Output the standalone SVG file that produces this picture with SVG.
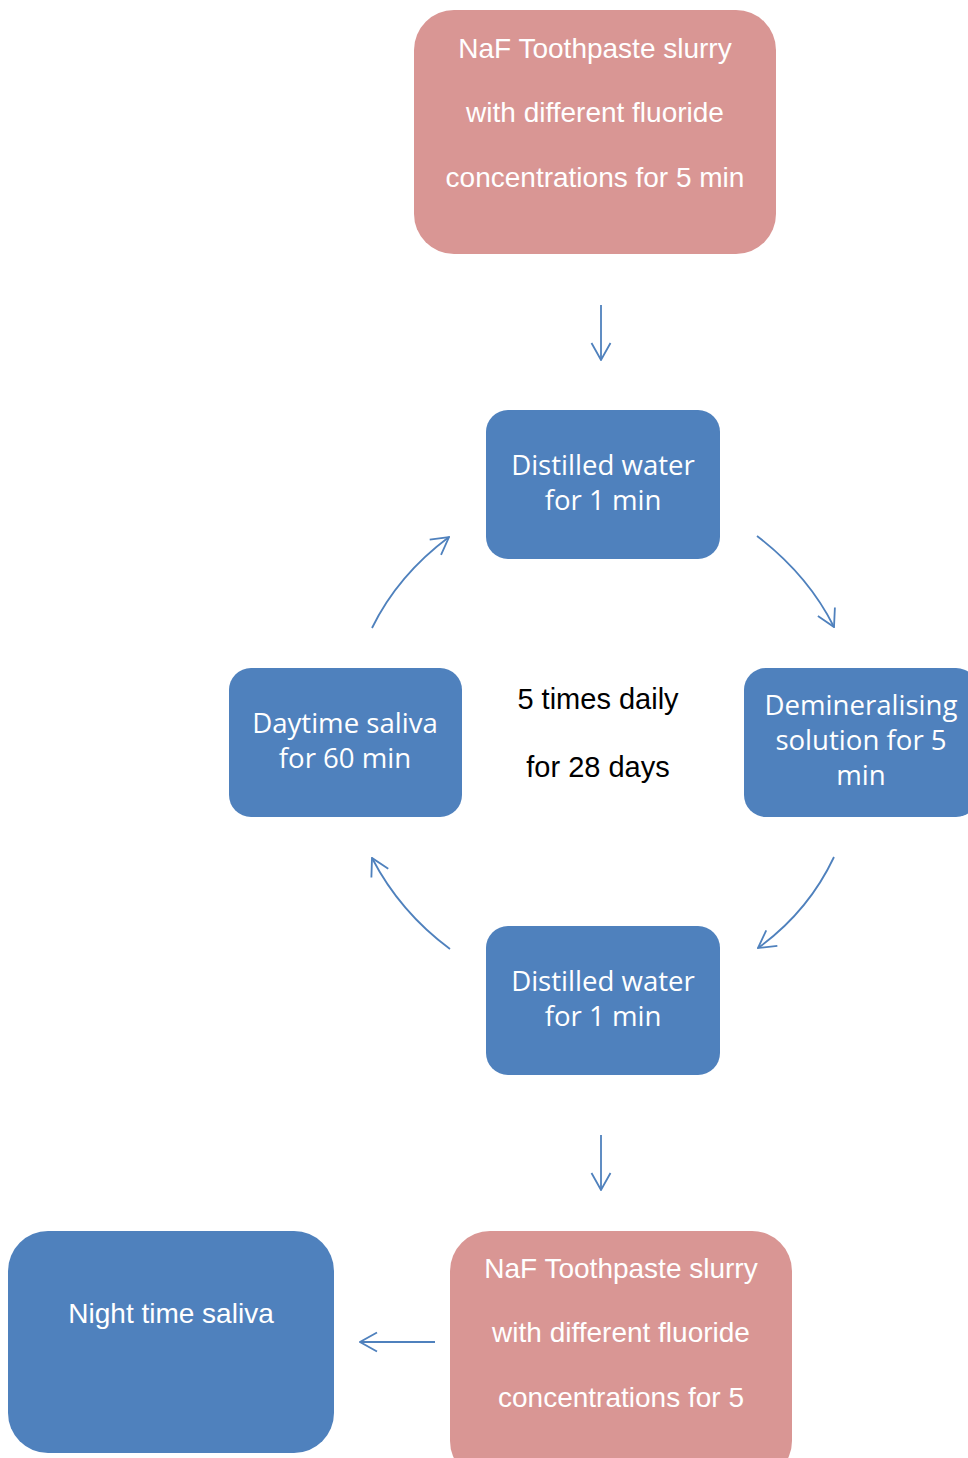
<svg xmlns="http://www.w3.org/2000/svg" width="968" height="1458" viewBox="0 0 968 1458">
<style>
.pink{fill:#D99694}
.blue{fill:#4F81BD}
.t1{font-family:"Liberation Sans",Arial,sans-serif;font-size:28px;fill:#fff;text-anchor:middle}
.t2{font-family:"Open Sans","Noto Sans",sans-serif;font-size:27.6px;fill:#fff;text-anchor:middle}
.t3{font-family:"Liberation Sans",Arial,sans-serif;font-size:29px;fill:#000;text-anchor:middle}
.c{fill:none;stroke:#4F81BD;stroke-width:1.8}
</style>
<defs>
<marker id="ah" viewBox="0 0 20 22" refX="19" refY="11" markerWidth="20" markerHeight="22" markerUnits="userSpaceOnUse" orient="auto">
<path d="M2,1.5 L19,11 L2,20.5" fill="none" stroke="#4F81BD" stroke-width="1.8"/>
</marker>
</defs>
<g id="n1">
<rect class="pink" x="414" y="10" width="362" height="244" rx="40"/>
<text class="t1" x="595" y="58">NaF Toothpaste slurry</text>
<text class="t1" x="595" y="122">with different fluoride</text>
<text class="t1" x="595" y="187">concentrations for 5 min</text>
</g>
<g id="n2">
<rect class="blue" x="486" y="410" width="234" height="149" rx="22"/>
<text class="t2" x="603" y="475">Distilled water</text>
<text class="t2" x="603" y="510">for 1 min</text>
</g>
<g id="n3">
<rect class="blue" x="744" y="668" width="234" height="149" rx="22"/>
<text class="t2" x="861" y="715">Demineralising</text>
<text class="t2" x="861" y="750">solution for 5</text>
<text class="t2" x="861" y="785">min</text>
</g>
<g id="n4">
<rect class="blue" x="486" y="926" width="234" height="149" rx="22"/>
<text class="t2" x="603" y="991">Distilled water</text>
<text class="t2" x="603" y="1026">for 1 min</text>
</g>
<g id="n5">
<rect class="blue" x="229" y="668" width="233" height="149" rx="22"/>
<text class="t2" x="345" y="733">Daytime saliva</text>
<text class="t2" x="345" y="768">for 60 min</text>
</g>
<g id="label">
<text class="t3" x="598" y="709">5 times daily</text>
<text class="t3" x="598" y="777">for 28 days</text>
</g>
<g id="n6">
<rect class="pink" x="450" y="1231" width="342" height="250" rx="40"/>
<text class="t1" x="621" y="1278">NaF Toothpaste slurry</text>
<text class="t1" x="621" y="1342">with different fluoride</text>
<text class="t1" x="621" y="1407">concentrations for 5</text>
</g>
<g id="n7">
<rect class="blue" x="8" y="1231" width="326" height="222" rx="40"/>
<text class="t1" x="171" y="1323">Night time saliva</text>
</g>
<g id="connectors">
<path class="c" d="M601,305 L601,360" marker-end="url(#ah)"/>
<path class="c" d="M757,536 Q808,575 834,627" marker-end="url(#ah)"/>
<path class="c" d="M834,857 Q808,912 758,948" marker-end="url(#ah)"/>
<path class="c" d="M450,949 Q400,912 372,858" marker-end="url(#ah)"/>
<path class="c" d="M372,628 Q398,575 449,537" marker-end="url(#ah)"/>
<path class="c" d="M601,1135 L601,1190" marker-end="url(#ah)"/>
<path class="c" d="M435,1342 L360,1342" marker-end="url(#ah)"/>
</g>
</svg>
